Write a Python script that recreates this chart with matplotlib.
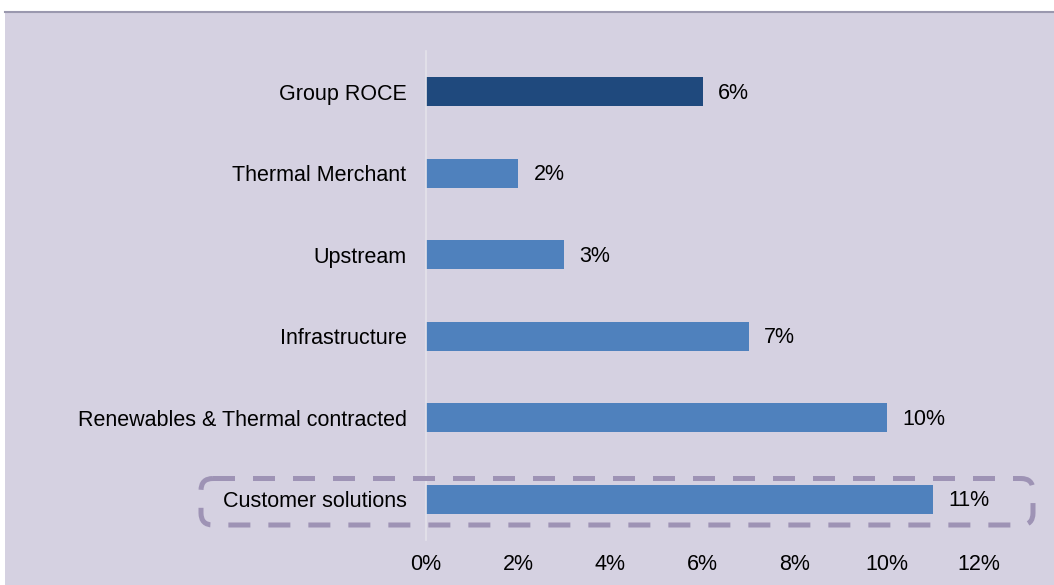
import matplotlib
matplotlib.use("Agg")
import matplotlib.pyplot as plt
from matplotlib.patches import Rectangle, FancyBboxPatch

categories = ["Group ROCE", "Thermal Merchant", "Upstream", "Infrastructure",
              "Renewables & Thermal contracted", "Customer solutions"]
roce = [6, 2, 3, 7, 10, 11]
bar_colors = ["#1F497D", "#4F81BD", "#4F81BD", "#4F81BD", "#4F81BD", "#4F81BD"]
xticks = [0, 2, 4, 6, 8, 10, 12]
xtick_labels = ["0%", "2%", "4%", "6%", "8%", "10%", "12%"]

plt.rcParams["font.family"] = ["Liberation Sans", "DejaVu Sans"]
FS = 15.5

W, H = 1054, 585
fig = plt.figure(figsize=(W / 100, H / 100), dpi=100, facecolor="white")

# Backdrop panel in pixel units
bg = fig.add_axes([0, 0, 1, 1], zorder=0)
bg.set_xlim(0, W)
bg.set_ylim(H, 0)
bg.axis("off")
bg.add_patch(Rectangle((5, 11), W - 5, H - 11, facecolor="#D5D1E1", edgecolor="none"))
bg.plot([5, W], [11.5, 11.5], color="#9A98AE", lw=1.5)

# Main bar chart
left, right = 426 / W, 979 / W
bottom, top = (H - 540) / H, (H - 51) / H
ax = fig.add_axes([left, bottom, right - left, top - bottom], zorder=1)
ax.set_facecolor("none")
y = list(range(len(categories)))
ax.barh(y, roce, height=0.36, color=bar_colors, zorder=2)
ax.set_xlim(0, 12)
ax.set_ylim(len(categories) - 0.5, -0.5)
ax.set_yticks(y)
ax.set_yticklabels(categories, fontsize=FS)
ax.set_xticks(xticks)
ax.set_xticklabels(xtick_labels, fontsize=FS)
ax.tick_params(axis="y", length=0, pad=14)
ax.tick_params(axis="x", length=0, pad=10)
for side in ["top", "right", "bottom"]:
    ax.spines[side].set_visible(False)
ax.spines["left"].set_color("#E4E2EA")
ax.spines["left"].set_linewidth(1.2)

for yi, v in zip(y, roce):
    ax.annotate(f"{v}%", xy=(v, yi), xytext=(11, -1), textcoords="offset points",
                va="center", ha="left", fontsize=FS)

# Dashed highlight around the last category
r = 12
bx0, bx1, by0, by1 = 201, 1033, 478.5, 525
box = FancyBboxPatch((bx0 + r, by0 + r), bx1 - bx0 - 2 * r, by1 - by0 - 2 * r,
                     boxstyle=f"round,pad={r},rounding_size={r}",
                     facecolor="none", edgecolor="#9E93B5", lw=3.6,
                     linestyle=(0, (4.4, 3.6)))
hl = fig.add_axes([0, 0, 1, 1], zorder=2)
hl.set_xlim(0, W)
hl.set_ylim(H, 0)
hl.axis("off")
hl.patch.set_alpha(0)
hl.add_patch(box)

fig.savefig("out.png", dpi=100, facecolor="white")
